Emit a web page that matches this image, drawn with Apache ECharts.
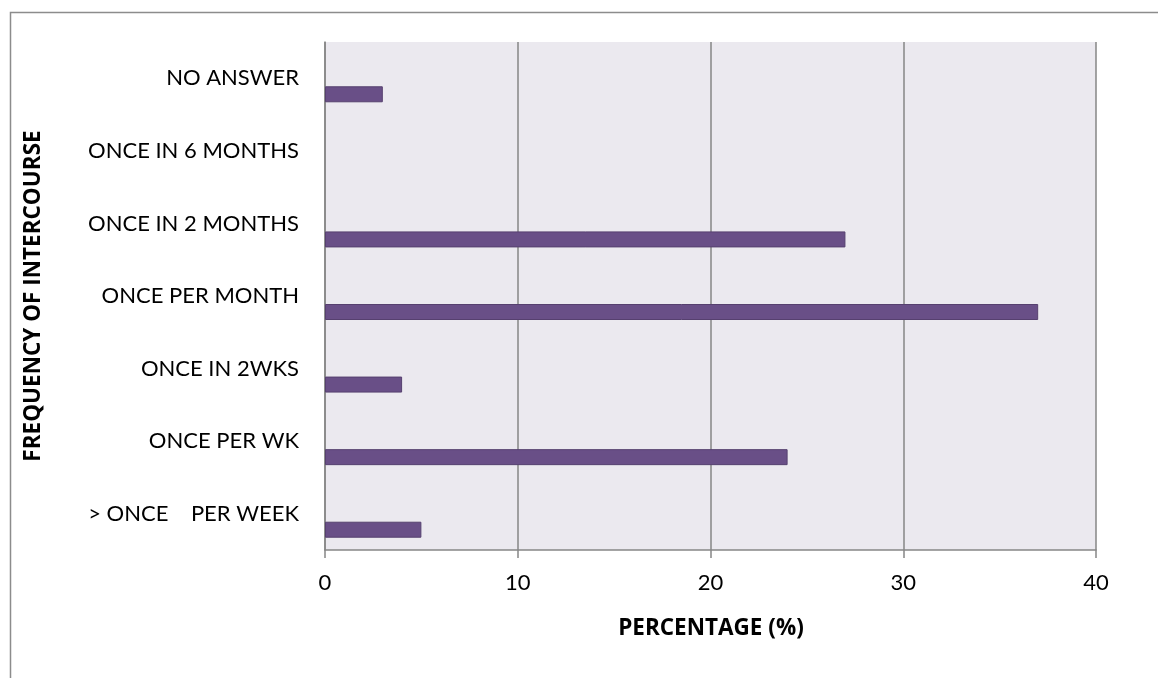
<!DOCTYPE html>
<html>
<head>
<meta charset="utf-8">
<script src="https://cdn.jsdelivr.net/npm/echarts@6/dist/echarts.min.js"></script>
<style>
html,body{margin:0;padding:0;background:#fff;}
#chart{width:1158px;height:678px;}
</style>
</head>
<body>
<div id="chart"></div>
<script>
var categories = ['> ONCE    PER WEEK', 'ONCE PER WK', 'ONCE IN 2WKS', 'ONCE PER MONTH', 'ONCE IN 2 MONTHS', 'ONCE IN 6 MONTHS', 'NO ANSWER'];
var percentages = [5, 24, 4, 37, 27, 0, 3];
var xTicks = [0, 10, 20, 30, 40];
var xTitle = 'PERCENTAGE (%)';
var yTitle = 'FREQUENCY OF INTERCOURSE';

var FONT = 'Lato';
var BFONT = 'Open Sans';
var chart = echarts.init(document.getElementById('chart'), null, {renderer: 'canvas'});
chart.setOption({
  animation: false,
  backgroundColor: '#ffffff',
  graphic: [
    {type: 'rect', left: 8, top: 10, shape: {width: 1200, height: 720}, style: {fill: 'none', stroke: '#8c8c8c', lineWidth: 1.5}, silent: true, z: -10},
    {type: 'text', x: 711, y: 629, style: {text: xTitle, fontFamily: BFONT, fontWeight: 'bold', fontSize: 22.5, fill: '#000', align: 'center', verticalAlign: 'middle'}},
    {type: 'text', x: 34, y: 296, rotation: Math.PI / 2, style: {text: yTitle, fontFamily: BFONT, fontWeight: 'bold', fontSize: 22.5, fill: '#000', align: 'center', verticalAlign: 'middle'}}
  ],
  grid: {left: 325, right: 62, top: 42, bottom: 128, show: true, backgroundColor: '#ebe9ef', borderWidth: 0},
  xAxis: {
    type: 'value', min: xTicks[0], max: xTicks[xTicks.length - 1], interval: 10,
    axisLine: {show: true, lineStyle: {color: '#868686', width: 1.5}},
    axisTick: {show: true, length: 8, lineStyle: {color: '#868686', width: 1.5}},
    splitLine: {show: true, lineStyle: {color: '#868686', width: 1.5}},
    axisLabel: {color: '#000', fontFamily: FONT, fontSize: 22, margin: 22}
  },
  yAxis: {
    type: 'category', data: categories,
    axisLine: {show: true, lineStyle: {color: '#868686', width: 1.5}},
    axisTick: {show: false},
    splitLine: {show: false},
    axisLabel: {color: '#000', fontFamily: FONT, fontSize: 22, margin: 26}
  },
  series: [
    {type: 'bar', data: categories.map(function(){return null;}), barWidth: 16, barGap: '100%'},
    {type: 'bar', data: percentages.map(function(v){return v === 0 ? null : v;}), barWidth: 16, barGap: '100%',
     itemStyle: {color: '#694f87', borderColor: '#56406f', borderWidth: 1}}
  ]
});
</script>
</body>
</html>
